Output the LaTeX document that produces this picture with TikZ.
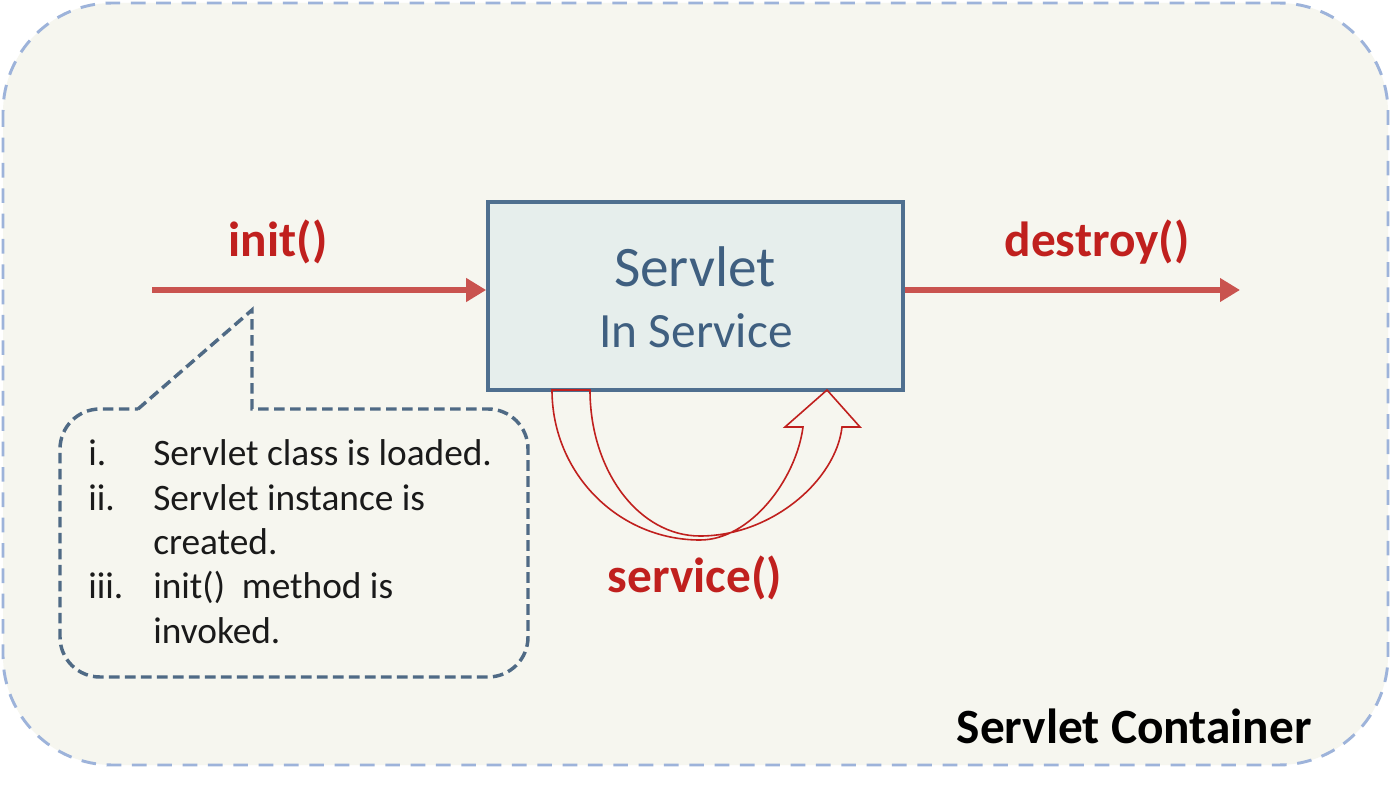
\documentclass[tikz,border=0pt]{standalone}
\usepackage{fontspec}
\setmainfont{Carlito}
\usetikzlibrary{arrows.meta}
\definecolor{bgfill}{HTML}{F6F6EF}
\definecolor{outerdash}{HTML}{9DB3DA}
\definecolor{boxfill}{HTML}{E6EEEC}
\definecolor{boxline}{HTML}{4F6F8F}
\definecolor{boxtext}{HTML}{3F5F80}
\definecolor{arrowred}{HTML}{C9534F}
\definecolor{labelred}{HTML}{C0201E}
\definecolor{calloutline}{HTML}{4F6A85}
\definecolor{listtext}{HTML}{1A1A1A}
\tikzset{
  lifearrow/.style={draw=arrowred, line width=4.5pt, -{Triangle[length=15pt,width=17pt]}},
  methodlabel/.style={text=labelred, font=\fontsize{37}{40}\selectfont\bfseries, inner sep=0pt, anchor=base},
  listitem/.style={text=listtext, font=\fontsize{28}{30}\selectfont, inner sep=0pt, anchor=base west},
  servletbox/.style={draw=boxline, fill=boxfill, line width=3pt, minimum width=311pt, minimum height=141pt, inner sep=0pt},
}
\begin{document}
\begin{tikzpicture}[x=0.75pt,y=-0.75pt]
\useasboundingbox (0,0) rectangle (1391,787);
\fill[white] (0,0) rectangle (1391,787);
% container
\draw[draw=outerdash, fill=bgfill, line width=2.2pt, dash pattern=on 11pt off 8pt, rounded corners=82pt]
  (3,3) rectangle (1388,765);
% servlet box
\node[servletbox] (sv) at (695.5,296) {};
\node[text=boxtext, font=\fontsize{43}{46}\selectfont, inner sep=0pt, anchor=base] (svt1) at (695,287) {Servlet};
\node[text=boxtext, font=\fontsize{37}{40}\selectfont, inner sep=0pt, anchor=base] (svt2) at (696,348) {In Service};
% init arrow
\coordinate (initstart) at (152,290);
\draw[lifearrow] (initstart) -- (initstart -| sv.west);
\node[methodlabel] (initlbl) at (278,257) {init()};
% destroy arrow
\coordinate (destroyend) at (1240,290);
\draw[lifearrow] (destroyend -| sv.east) -- (destroyend);
\node[methodlabel] (destroylbl) at (1097,257) {destroy()};
% service arrow
\draw[draw=labelred, line width=1.2pt, line join=miter]
  (552,390) -- (590,390)
  .. controls (590,471) and (639,536) .. (700,536)
  .. controls (772,536) and (836,480) .. (842,427)
  -- (860,427) -- (827,390) -- (785,427) -- (803,427)
  .. controls (796,480) and (750,540) .. (700,540)
  .. controls (618,540) and (552,473) .. (552,390) -- cycle;
\node[methodlabel] (servicelbl) at (695,592) {service()};
% callout
\draw[draw=calloutline, line width=2.6pt, dash pattern=on 8pt off 4pt]
  (138,409) -- (252,310) -- (252,409) -- (488,409)
  arc[start angle=-90, end angle=0, radius=40] -- (528,637)
  arc[start angle=0, end angle=90, radius=40] -- (100,677)
  arc[start angle=90, end angle=180, radius=40] -- (60,449)
  arc[start angle=180, end angle=270, radius=40] -- cycle;
\node[listitem] (n1) at (88,465) {i.};
\node[listitem] (t1) at (153,465) {Servlet class is loaded.};
\node[listitem] (n2) at (88,510) {ii.};
\node[listitem] (t2) at (153,510) {Servlet instance is};
\node[listitem] (t3) at (153,554) {created.};
\node[listitem] (n3) at (88,598) {iii.};
\node[listitem] (t4) at (153,598) {init()~ method is};
\node[listitem] (t5) at (153,643) {invoked.};
% container label
\node[text=black, font=\fontsize{37}{40}\selectfont\bfseries, inner sep=0pt, anchor=base east] (contlbl) at (1312,743) {Servlet Container};
\end{tikzpicture}
\end{document}
